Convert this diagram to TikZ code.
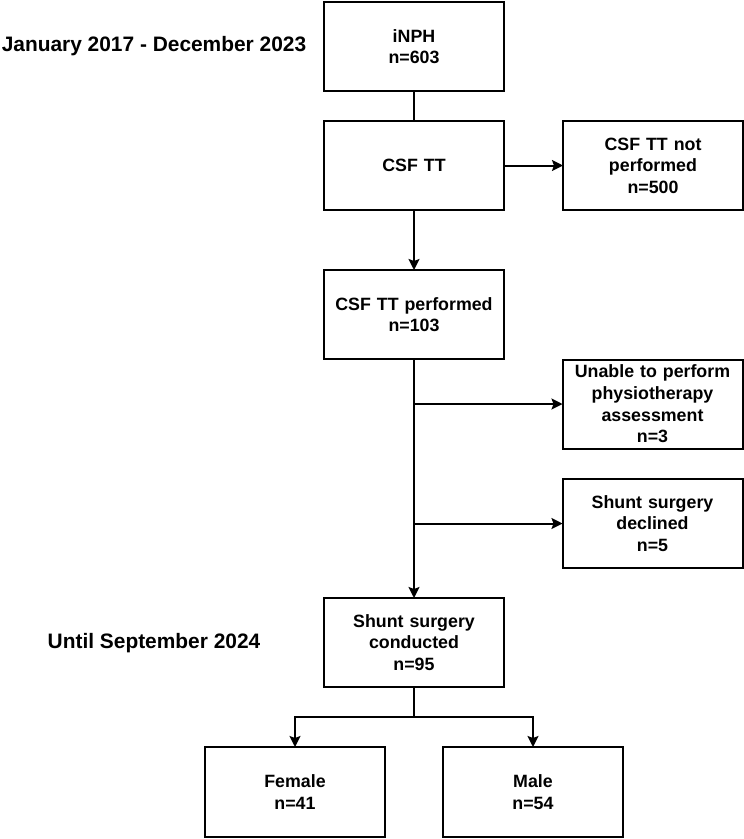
\documentclass[tikz,border=0pt]{standalone}
\usepackage{fontspec}
\setmainfont{Liberation Sans}
\usetikzlibrary{arrows.meta, positioning, calc}

\begin{document}
\begin{tikzpicture}[x=1pt, y=-1pt, node distance=30pt, >={Stealth[length=11pt,width=11pt,inset=2pt]}]
    \tikzstyle{block} = [rectangle, draw=black, line width=2pt, outer sep=0pt, minimum width=180pt, minimum height=89pt, text width=172pt, inner sep=1pt, align=center, font=\bfseries\fontsize{17.8}{21.6}\selectfont]
    \tikzstyle{line} = [draw, ->, line width=2pt]
    \tikzstyle{period} = [font=\bfseries\fontsize{20.9}{24}\selectfont]

    \useasboundingbox (0,0) rectangle (744,839);

    % main chain
    \node [block] (inph) at (414,46.5) {iNPH\\n=603};
    \node [block, below=30pt of inph] (csftt) {CSF TT};
    \node [block, right=59pt of csftt] (notdone) {CSF TT not\\performed\\n=500};
    \node [block, below=60pt of csftt] (done) {CSF TT performed\\n=103};
    \node [block] (unable) at (652.5,404) {Unable to perform\\physiotherapy\\assessment\\n=3};
    \node [block] (declined) at (652.5,523.5) {Shunt surgery\\declined\\n=5};
    \node [block, below=239pt of done] (shunt) {Shunt surgery\\conducted\\n=95};
    \node [block, minimum height=90pt] (female) at (295,792) {Female\\n=41};
    \node [block, minimum height=90pt] (male) at (533,792) {Male\\n=54};

    % periods
    \node [period] (range) at (154,46.5) {January 2017 - December 2023};
    \node [period] (until) at (154,643) {Until September 2024};

    \draw [line width=2pt] (inph) -- (csftt);
    \path [line] (csftt) -- (notdone);
    \path [line] (csftt) -- (done);
    \path [line] (done) -- (shunt);
    \path [line] (done.south |- unable.west) -- (unable.west);
    \path [line] (done.south |- declined.west) -- (declined.west);
    \coordinate (split) at ($(shunt.south)+(0,30)$);
    \draw [line width=2pt] (shunt) -- (split);
    \path [line] (split) -| (female);
    \path [line] (split) -| (male);
\end{tikzpicture}
\end{document}
